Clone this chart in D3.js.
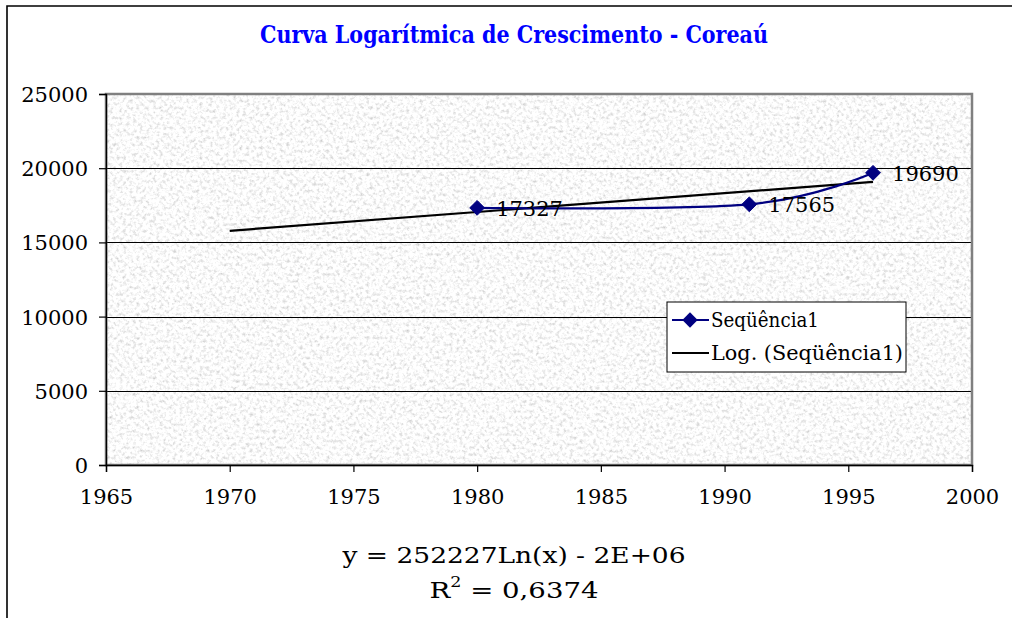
<!DOCTYPE html>
<html>
<head>
<meta charset="utf-8">
<script src="https://cdn.jsdelivr.net/npm/d3@7"></script>
<style>
  html, body { margin: 0; padding: 0; background: #fff; }
  svg { display: block; }
  text { font-family: "DejaVu Serif", "Liberation Serif", serif; }
</style>
</head>
<body>
<svg id="chart" width="1012" height="618"></svg>
<script>
// ---- Data ----
const titleText = "Curva Logarítmica de Crescimento - Coreaú";
const years = [1980, 1991, 1996];
const population = [17327, 17565, 19690];
const trendYears = [1970, 1996];
const trendValues = [15780, 19080];
const xTicks = [1965, 1970, 1975, 1980, 1985, 1990, 1995, 2000];
const yTicks = [0, 5000, 10000, 15000, 20000, 25000];
const seriesName = "Seqüência1";
const trendName = "Log. (Seqüência1)";
const equationText = "y = 252227Ln(x) - 2E+06";
const r2Value = "0,6374";

// ---- Layout ----
const W = 1012, H = 618;
const plot = { left: 106, right: 972, top: 94, bottom: 465 };
const svg = d3.select("#chart");

const x = d3.scaleLinear().domain([1965, 2000]).range([plot.left, plot.right]);
const y = d3.scaleLinear().domain([0, 25000]).range([plot.bottom, plot.top]);

// defs: granite texture
const defs = svg.append("defs");
const f = defs.append("filter").attr("id", "granite")
  .attr("x", 0).attr("y", 0).attr("width", 1).attr("height", 1)
  .attr("filterUnits", "objectBoundingBox");
f.append("feTurbulence").attr("type", "fractalNoise")
  .attr("baseFrequency", 0.3).attr("numOctaves", 3).attr("seed", 7).attr("result", "noise");
f.append("feColorMatrix").attr("type", "matrix").attr("in", "noise")
  .attr("values", "0.85 0 0 0 0.54  0.85 0 0 0 0.54  0.85 0 0 0 0.54  0 0 0 0 1");

// background
svg.append("rect").attr("width", W).attr("height", H).attr("fill", "#fff");

// outer chart border (top and left visible)
svg.append("path").attr("d", `M7,${H} L7,6 L${W},6`)
  .attr("fill", "none").attr("stroke", "#000").attr("stroke-width", 1.6);

// title
svg.append("text").attr("x", 514).attr("y", 43)
  .attr("text-anchor", "middle").attr("font-weight", "bold")
  .attr("font-size", 24).attr("fill", "#0000ff")
  .attr("textLength", 508).attr("lengthAdjust", "spacingAndGlyphs")
  .text(titleText);

// plot area
svg.append("rect").attr("x", plot.left).attr("y", plot.top)
  .attr("width", plot.right - plot.left).attr("height", plot.bottom - plot.top)
  .attr("fill", "#e6e6e6").attr("filter", "url(#granite)");

// gridlines
svg.append("g").selectAll("line").data(yTicks.filter(d => d > 0 && d < 25000)).join("line")
  .attr("x1", plot.left).attr("x2", plot.right)
  .attr("y1", d => Math.round(y(d)) + 0.5).attr("y2", d => Math.round(y(d)) + 0.5)
  .attr("stroke", "#000").attr("stroke-width", 1);

// plot border (gray)
svg.append("rect").attr("x", plot.left).attr("y", plot.top)
  .attr("width", plot.right - plot.left).attr("height", plot.bottom - plot.top)
  .attr("fill", "none").attr("stroke", "#808080").attr("stroke-width", 2.5);

// axes
const xAxis = d3.axisBottom(x).tickValues(xTicks).tickFormat(d3.format("d")).tickSize(7).tickPadding(14);
const yAxis = d3.axisLeft(y).tickValues(yTicks).tickFormat(d3.format("d")).tickSize(7).tickPadding(11);

const gx = svg.append("g").attr("transform", `translate(0,${plot.bottom})`).call(xAxis);
const gy = svg.append("g").attr("transform", `translate(${plot.left},0)`).call(yAxis);
[gx, gy].forEach(g => {
  g.select(".domain").attr("stroke", "#000").attr("stroke-width", 1.4);
  g.selectAll(".tick line").attr("stroke", "#000").attr("stroke-width", 1.2);
  g.selectAll(".tick text").attr("font-family", "DejaVu Serif, serif")
    .attr("font-size", 21).attr("fill", "#000");
});
gx.selectAll(".tick text").attr("dy", "0.85em");
gy.selectAll(".tick text").attr("dy", "0.36em");

// trend line
const trendLine = d3.line().x((d, i) => x(trendYears[i])).y(d => y(d));
svg.append("path").datum(trendValues)
  .attr("d", trendLine).attr("fill", "none")
  .attr("stroke", "#000").attr("stroke-width", 2.2);

// series line (smoothed)
const seriesLine = d3.line().curve(d3.curveCardinal.tension(0))
  .x((d, i) => x(years[i])).y(d => y(d));
svg.append("path").datum(population)
  .attr("d", seriesLine).attr("fill", "none")
  .attr("stroke", "#000080").attr("stroke-width", 2.2);

// markers
const diamond = d3.symbol().type(d3.symbolDiamond2).size(140);
svg.append("g").selectAll("path").data(population).join("path")
  .attr("d", diamond)
  .attr("transform", (d, i) => `translate(${x(years[i])},${y(d)})`)
  .attr("fill", "#000080").attr("stroke", "#000080").attr("stroke-width", 1);

// data labels
svg.append("g").selectAll("text").data(population).join("text")
  .attr("x", (d, i) => x(years[i]) + 19)
  .attr("y", d => y(d) + 8)
  .attr("font-size", 21).attr("fill", "#000")
  .text(d => d);

// legend
const lg = svg.append("g").attr("transform", "translate(667,302)");
lg.append("rect").attr("width", 239).attr("height", 70)
  .attr("fill", "#fff").attr("stroke", "#000").attr("stroke-width", 1);
lg.append("line").attr("x1", 5).attr("x2", 42).attr("y1", 18).attr("y2", 18)
  .attr("stroke", "#000080").attr("stroke-width", 2);
lg.append("path").attr("d", d3.symbol().type(d3.symbolDiamond2).size(150)).attr("transform", "translate(23,18)")
  .attr("fill", "#000080");
lg.append("text").attr("x", 44).attr("y", 25).attr("font-size", 21)
  .attr("textLength", 108).attr("lengthAdjust", "spacingAndGlyphs").text(seriesName);
lg.append("line").attr("x1", 5).attr("x2", 42).attr("y1", 51).attr("y2", 51)
  .attr("stroke", "#000").attr("stroke-width", 2);
lg.append("text").attr("x", 44).attr("y", 58).attr("font-size", 21)
  .attr("textLength", 192).attr("lengthAdjust", "spacingAndGlyphs").text(trendName);

// equation
svg.append("text").attr("x", 514).attr("y", 563).attr("text-anchor", "middle")
  .attr("font-size", 22).attr("textLength", 343).attr("lengthAdjust", "spacingAndGlyphs")
  .text(equationText);
const r2 = svg.append("text").attr("x", 514).attr("y", 598).attr("text-anchor", "middle")
  .attr("font-size", 22).attr("textLength", 169).attr("lengthAdjust", "spacingAndGlyphs");
r2.append("tspan").text("R");
r2.append("tspan").attr("font-size", 14).attr("dy", -11).text("2");
r2.append("tspan").attr("dy", 11).text(" = " + r2Value);
</script>
</body>
</html>
